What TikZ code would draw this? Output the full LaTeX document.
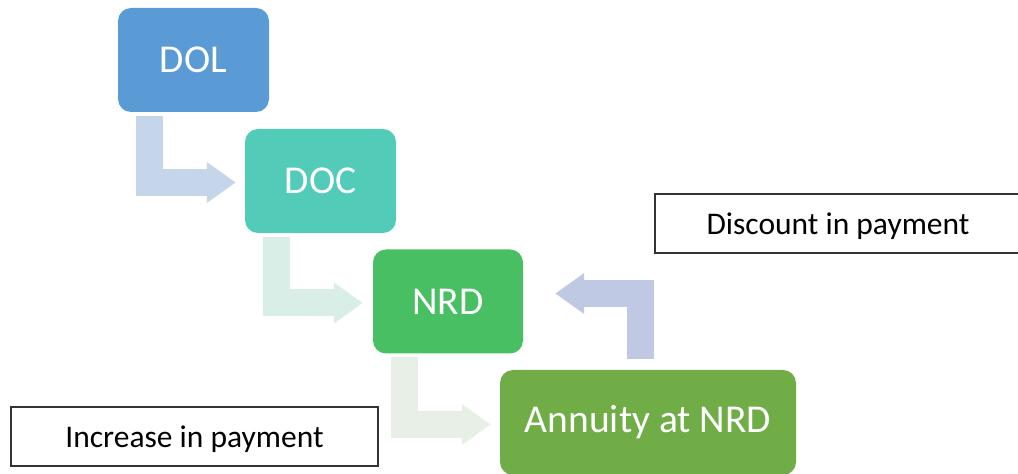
\documentclass[tikz,border=0pt]{standalone}
\usepackage{fontspec}
\setmainfont{Carlito}
\usetikzlibrary{arrows.meta}

\definecolor{dolblue}{RGB}{91,155,213}
\definecolor{docteal}{RGB}{82,203,184}
\definecolor{nrdgreen}{RGB}{72,191,99}
\definecolor{anngreen}{RGB}{112,173,71}
\definecolor{arrowA}{RGB}{197,213,234}
\definecolor{arrowB}{RGB}{216,238,231}
\definecolor{arrowC}{RGB}{232,239,230}
\definecolor{arrowD}{RGB}{191,201,228}

\tikzset{
  stage/.style={rounded corners=13pt, minimum height=104pt, text=white,
    inner sep=0pt, font=\fontsize{39.5}{39.5}\selectfont},
  note/.style={draw=black!80, line width=1.3pt, minimum height=59pt,
    inner sep=0pt, fill=white, text height=22pt, text depth=0pt,
    font=\fontsize{31.5}{31.5}\selectfont},
  bent/.style={line width=27pt, line cap=butt, line join=miter,
    -{Triangle[width=39pt,length=29pt]}}
}

\begin{document}
\begin{tikzpicture}[x=1pt,y=1pt]
  \useasboundingbox (0,0) rectangle (1018,474);
  \clip (0,0) rectangle (1018,474);

  % process stages
  \node[stage, fill=dolblue, minimum width=151pt] (DOL) at (193.5,414) {DOL};
  \node[stage, fill=docteal, minimum width=151pt] (DOC) at (320.5,293) {DOC};
  \node[stage, fill=nrdgreen, minimum width=150pt] (NRD) at (448,172.5) {NRD};
  \node[stage, fill=anngreen, minimum width=296pt, minimum height=105pt] (ANN) at (648,51.5) {Annuity at NRD};

  % annotation boxes
  \node[note, minimum width=366pt] (DISC) at (838,250.5) {Discount in payment};
  \node[note, minimum width=367pt] (INC) at (194.5,37.5) {Increase in payment};

  % bent arrows between the stages
  \draw[bent, draw=arrowA, shorten <=4pt, shorten >=9pt]
    ([xshift=31.5pt]DOL.south west) |- ([yshift=-1.5pt]DOC.west);
  \draw[bent, draw=arrowB, shorten <=4pt, shorten >=10pt]
    ([xshift=31.5pt]DOC.south west) |- ([yshift=-1.5pt]NRD.west);
  \draw[bent, draw=arrowC, shorten <=3pt, shorten >=9pt]
    ([xshift=31.5pt]NRD.south west) |- ([yshift=-2pt]ANN.west);
  \draw[bent, draw=arrowD, shorten <=11pt, shorten >=32pt]
    ([xshift=140.5pt]ANN.north west) |- ([yshift=8pt]NRD.east);
\end{tikzpicture}
\end{document}
